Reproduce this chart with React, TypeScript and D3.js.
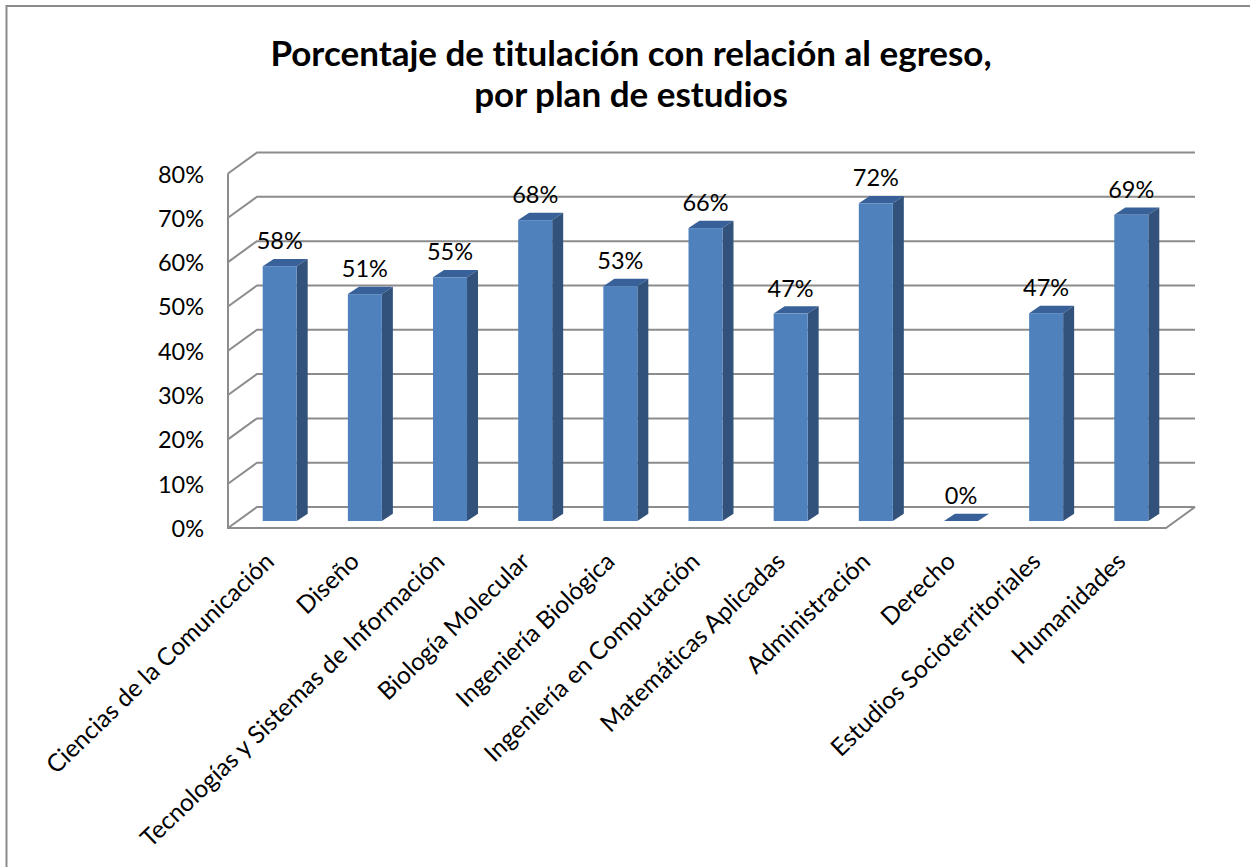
import React from "react";
import * as d3 from "d3";

const categories = ["Ciencias de la Comunicación","Diseño","Tecnologías y Sistemas de Información","Biología Molecular","Ingeniería Biológica","Ingeniería en Computación","Matemáticas Aplicadas","Administración","Derecho","Estudios Socioterritoriales","Humanidades"];
const values = [57.5,51.2,55,67.9,53,66.1,46.8,71.7,0,46.9,69.1];
const ticks = [0,10,20,30,40,50,60,70,80];
const titleLines = ["Porcentaje de titulación con relación al egreso,","por plan de estudios"];
const FONT = "Lato, 'Open Sans', sans-serif";

const yFront = d3.scaleLinear().domain([0,80]).range([528,173.5]);
const band = d3.scaleLinear().domain([0,10]).range([262.7,1114.3]);
const barW = 34, dx = 11, dy = 7.3, baseY = 521;
const depthX = 29, depthY = 21;
const gridRight = 1195, leftX = 228;

export default function App() {
  const barY = (v:number) => baseY - (yFront(0)-yFront(v));
  const line = d3.line();
  return (
    <svg width={1250} height={867} style={{position:"fixed",left:0,top:0,background:"#fff",fontVariantLigatures:"none"}} fontFamily={FONT}>
      <path d="M6.5,867V6H1250" fill="none" stroke="#8c8c8c" strokeWidth={2}/>
      {titleLines.map((t,i)=>(
        <text key={i} x={631} y={66+i*41} textAnchor="middle" fontSize={35} fontWeight={700} fill="#000" >{t}</text>
      ))}
      {ticks.map(t=>{
        const y=yFront(t);
        return <g key={t}>
          <path d={line([[leftX,y],[leftX+depthX,y-depthY],[gridRight,y-depthY]])!} fill="none" stroke="#8c8c8c" strokeWidth={2}/>
          <text x={204} y={y+9} textAnchor="end" fontSize={23.5} fill="#000">{t}%</text>
        </g>;
      })}
      <path d={line([[leftX,yFront(80)],[leftX,yFront(0)],[gridRight-depthX,yFront(0)],[gridRight,yFront(0)-depthY]])!} fill="none" stroke="#8c8c8c" strokeWidth={2}/>
      {values.map((v,i)=>{
        const x=band(i), y=barY(v);
        return <g key={i}>
          <path d={line([[x,y],[x+dx,y-dy],[x+barW+dx,y-dy],[x+barW,y]])!+"Z"} fill="#386199"/>
          {v>0 && <path d={line([[x+barW,y],[x+barW+dx,y-dy],[x+barW+dx,baseY-dy],[x+barW,baseY]])!+"Z"} fill="#32527c"/>}
          {v>0 && <rect x={x} y={y} width={barW} height={baseY-y} fill="#4f81bd"/>}
          <text x={x+17} y={y-17} textAnchor="middle" fontSize={23.5} fill="#000">{Math.round(v)}%</text>
        </g>;
      })}
      {categories.map((c,i)=>(
        <text key={c} transform={`translate(${band(i)+7},${557}) rotate(-44)`} textAnchor="end" fontSize={24.5} fill="#000" dy="0.35em">{c}</text>
      ))}
    </svg>
  );
}
